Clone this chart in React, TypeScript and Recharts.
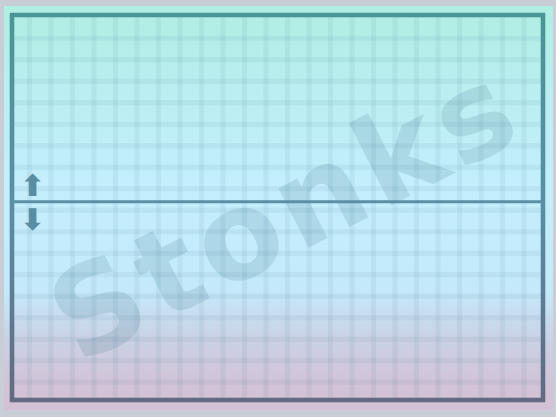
import React from 'react';
import { LineChart, Line, XAxis, YAxis, CartesianGrid, ReferenceArea, Customized } from 'recharts';

// flat as a pancake
const sessions = ['Mon', 'Tue', 'Wed', 'Thu', 'Fri', 'Mon', 'Tue', 'Wed', 'Thu', 'Fri', 'Mon', 'Tue'];
const prices = [0, 0, 0, 0, 0, 0, 0, 0, 0, 0, 0, 0];

const gridColumns = [0, 1, 2, 3, 4, 5, 6, 7, 8, 9, 10, 11, 12, 13, 14, 15, 16, 17, 18, 19, 20, 21, 22, 23];
const gridRows = [7.6, 6.6, 5.6, 4.6, 3.6, 2.6, 1.6, 0.6, -0.4, -1.4, -2.4, -3.4, -4.4, -5.4, -6.4, -7.4, -8.4];
const arrowTicks = [0.75, -0.8];

const X_DOMAIN: [number, number] = [-0.81, 23.88];
const Y_DOMAIN: [number, number] = [-9.22, 8.68];

const data = sessions.map((s, i) => ({ session: s, day: i, price: prices[i] }));

const Watermark = () => (
  <g transform="translate(286 221) rotate(-27)" pointerEvents="none">
    <text
      x={3}
      y={34}
      textAnchor="middle"
      fontFamily="DejaVu Sans"
      fontWeight="bold"
      fontSize={122}
      letterSpacing={6}
      fill="rgba(60,110,130,0.16)"
    >
      Stonks
    </text>
  </g>
);

export default function App() {
  return (
    <div style={{ position: 'absolute', left: 0, top: 0, width: 556, height: 417, background: '#c9cdd5' }}>
      <div
        style={{
          position: 'absolute',
          left: 4,
          top: 6,
          width: 549,
          height: 404,
          background:
            'linear-gradient(to bottom, #b0eee2 0%, #bbeef2 22%, #c4eefc 45%, #c4eafa 70%, #cad2e6 82%, #d2c4d8 93%, #d4c0d4 100%)',
        }}
      />
      <div style={{ position: 'absolute', left: 0, top: 0 }}>
        <LineChart width={556} height={417} data={data} margin={{ top: 15, right: 13, bottom: 17, left: 12 }}>
          <defs>
            <linearGradient id="frame" x1="0" y1="0" x2="0" y2="1">
              <stop offset="0%" stopColor="#4a9696" />
              <stop offset="50%" stopColor="#5a8ea6" />
              <stop offset="100%" stopColor="#626a80" />
            </linearGradient>
          </defs>
          <XAxis dataKey="day" type="number" domain={X_DOMAIN} ticks={gridColumns} interval={0} allowDataOverflow hide />
          <XAxis xAxisId="t" dataKey="session" hide />
          <YAxis type="number" domain={Y_DOMAIN} ticks={gridRows} interval={0} allowDataOverflow hide />
          <YAxis
            yAxisId="main"
            type="number"
            domain={Y_DOMAIN}
            ticks={arrowTicks}
            interval={0}
            allowDataOverflow
            mirror
            axisLine={false}
            tickLine={false}
            tickFormatter={(v: number) => (v > 0 ? '⬆' : '⬇')}
            tick={{ fill: '#5a8ca2', fontSize: 30, fontWeight: 'bold', fontFamily: 'DejaVu Sans' }}
          />
          <CartesianGrid stroke="rgba(60,120,140,0.08)" strokeWidth={5} />
          <Customized component={Watermark} />
          <ReferenceArea
            x1={X_DOMAIN[0]}
            x2={X_DOMAIN[1]}
            y1={Y_DOMAIN[0]}
            y2={Y_DOMAIN[1]}
            fill="none"
            fillOpacity={0}
            stroke="url(#frame)"
            strokeWidth={4.5}
            ifOverflow="visible"
          />
          <Line
            xAxisId="t"
            yAxisId="main"
            type="linear"
            dataKey="price"
            stroke="#5b8fa5"
            strokeWidth={3}
            dot={false}
            isAnimationActive={false}
          />
        </LineChart>
      </div>
    </div>
  );
}
